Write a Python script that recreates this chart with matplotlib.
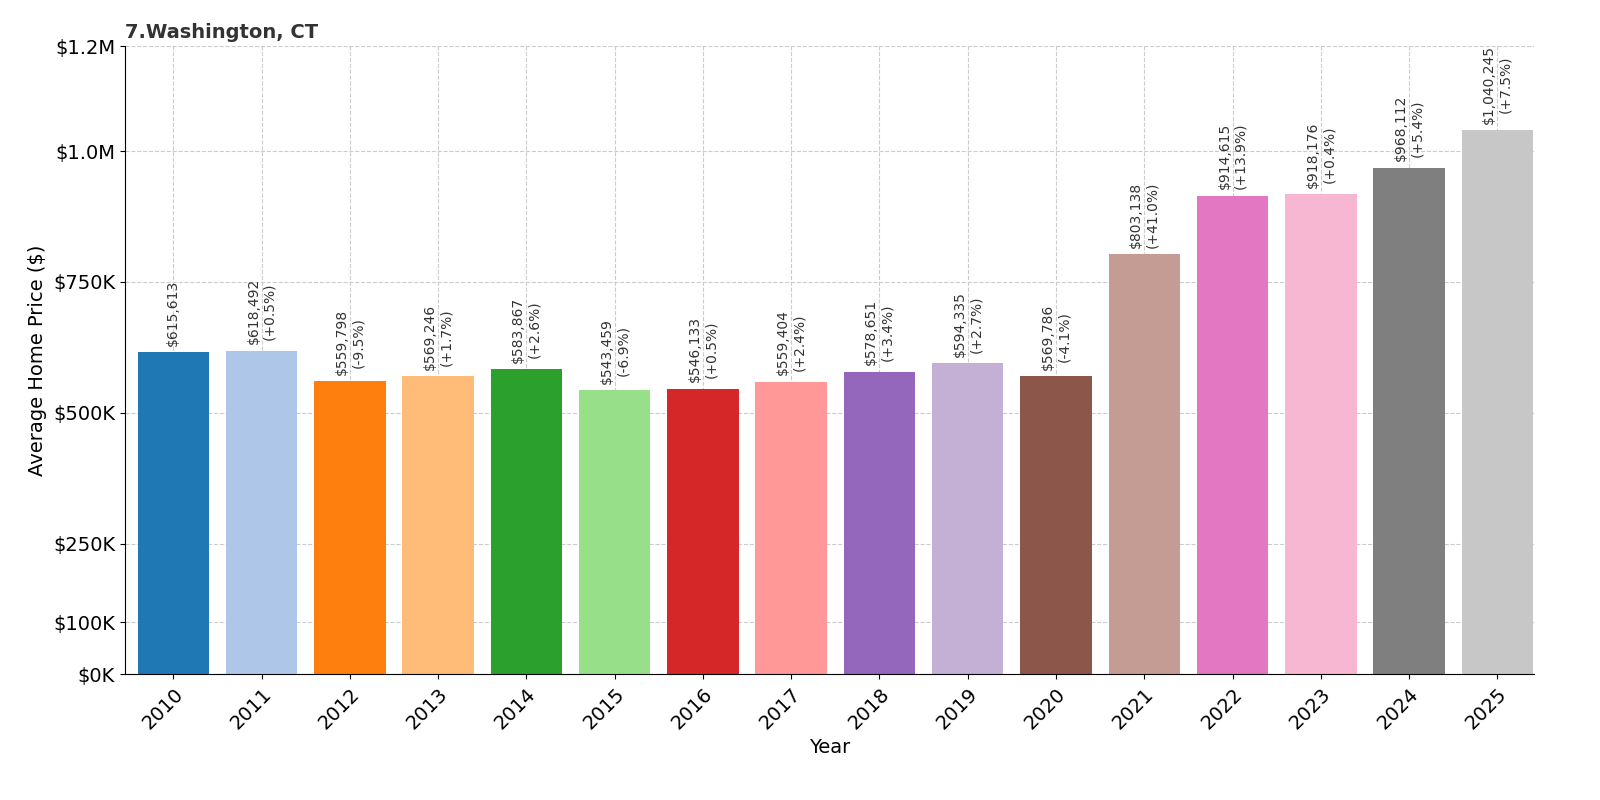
import matplotlib
matplotlib.use("Agg")
import matplotlib.pyplot as plt
from matplotlib.ticker import FuncFormatter

years = [2010, 2011, 2012, 2013, 2014, 2015, 2016, 2017, 2018, 2019, 2020, 2021, 2022, 2023, 2024, 2025]
prices = [615613, 618492, 559798, 569246, 583867, 543459, 546133, 559404, 578651, 594335, 569786, 803138, 914615, 918176, 968112, 1040245]
changes = [None, "+0.5%", "-9.5%", "+1.7%", "+2.6%", "-6.9%", "+0.5%", "+2.4%", "+3.4%", "+2.7%", "-4.1%", "+41.0%", "+13.9%", "+0.4%", "+5.4%", "+7.5%"]
yticks = [0, 100000, 250000, 500000, 750000, 1000000, 1200000]
ytick_labels = ["$0K", "$100K", "$250K", "$500K", "$750K", "$1.0M", "$1.2M"]

fig = plt.figure(figsize=(16, 8), dpi=100)
ax = fig.add_axes([0.078, 0.157, 0.881, 0.785])
colors = plt.get_cmap("tab20").colors
x = list(range(len(years)))
ax.bar(x, prices, width=0.81, color=[colors[i % 20] for i in x], zorder=2)
for i, (p, c) in enumerate(zip(prices, changes)):
    txt = f"${p:,}" if c is None else f"${p:,}\n({c})"
    ax.text(i, p + 12000, txt, rotation=90, ha="center", va="bottom", fontsize=10, color="#333333")

ax.set_xlim(-0.55, 15.42)
ax.set_ylim(0, 1200000)
ax.set_yticks(yticks)
ax.set_yticklabels(ytick_labels, fontsize=14)
ax.set_xticks(x)
ax.set_xticklabels([str(y) for y in years], rotation=45, ha="right", rotation_mode="anchor", fontsize=14)
ax.set_xlabel("Year", fontsize=14)
ax.set_ylabel("Average Home Price ($)", fontsize=14)
ax.grid(True, linestyle="--", color="#cccccc", linewidth=0.8, zorder=0)
ax.set_axisbelow(True)
ax.spines["top"].set_visible(False)
ax.spines["right"].set_visible(False)
ax.set_title("7.Washington, CT", loc="left", fontsize=14, fontweight="bold", color="#333333", pad=6)
fig.savefig("out.png", dpi=100)
